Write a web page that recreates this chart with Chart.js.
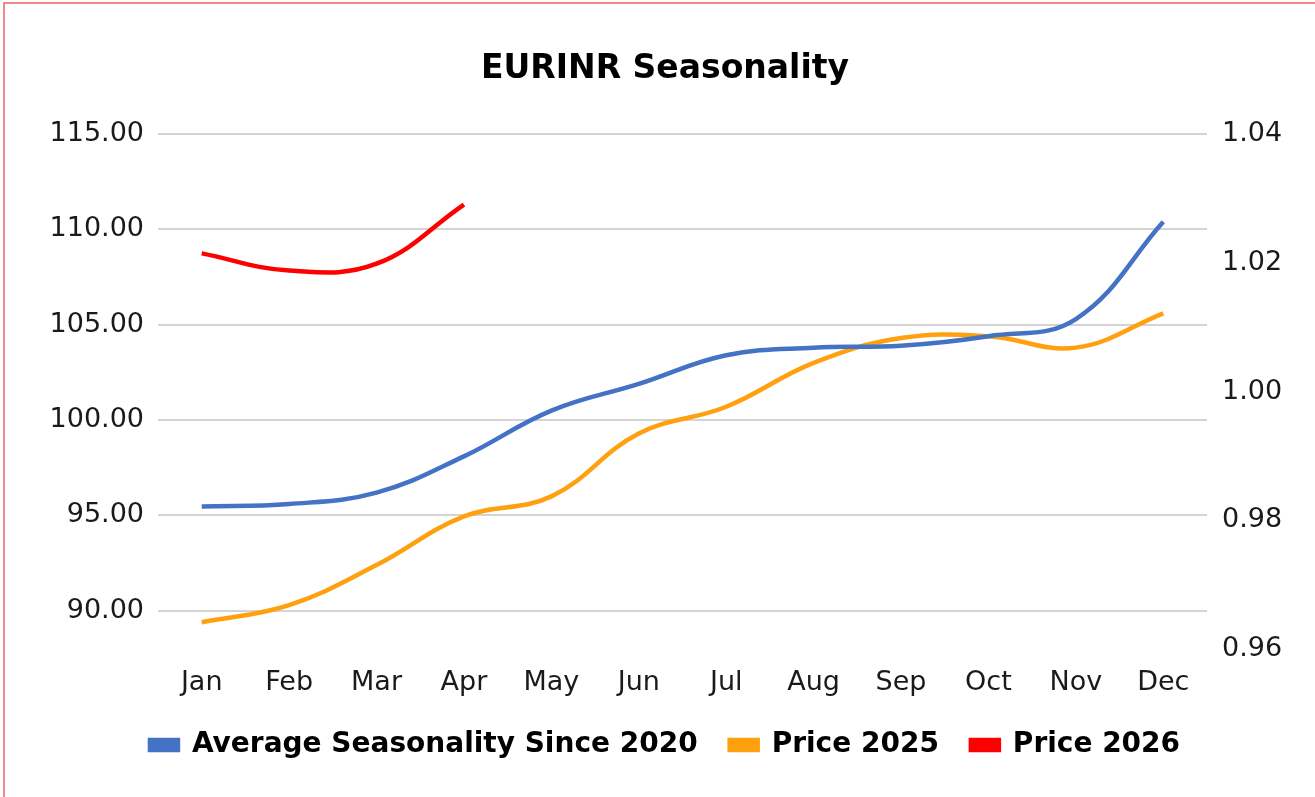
<!doctype html>
<html lang="en">
<head>
  <meta charset="UTF-8" />
  <title>EURINR Seasonality</title>
  <script src="https://cdn.jsdelivr.net/npm/chart.js@4.4.4/dist/chart.umd.min.js"></script>
  <style>
    html, body {
      margin: 0;
      padding: 0;
      background: #ffffff;
      overflow: hidden;
    }
    .frame {
      position: absolute;
      left: 3px;
      top: 2px;
      width: 1320px;
      height: 810px;
      border: 2px solid #ef8a8a;
    }
    canvas {
      display: block;
    }
  </style>
</head>
<body>
  <div class="frame">
    <canvas id="chart" width="1320" height="810"></canvas>
  </div>

  <script>
    const months = ['Jan', 'Feb', 'Mar', 'Apr', 'May', 'Jun', 'Jul', 'Aug', 'Sep', 'Oct', 'Nov', 'Dec'];
    const avgSeasonality = [95.47, 95.6, 96.2, 98.1, 100.5, 101.9, 103.4, 103.8, 103.9, 104.4, 105.3, 110.4];
    const price2025 = [89.4, 90.3, 92.4, 94.95, 96.0, 99.3, 100.7, 103.0, 104.3, 104.4, 103.8, 105.6];
    const price2026 = [108.74, 107.84, 108.2, 111.3];
    const leftTicks = [90, 95, 100, 105, 110, 115];
    const rightTicks = [0.96, 0.98, 1.00, 1.02, 1.04];

    const FONT = '"DejaVu Sans", Verdana, sans-serif';
    const TEXT = '#1a1a1a';

    const line = (label, data, color) => ({
      label,
      data,
      borderColor: color,
      backgroundColor: color,
      borderWidth: 4.5,
      pointRadius: 0,
      tension: 0.4,
      yAxisID: 'y'
    });

    new Chart(document.getElementById('chart'), {
      type: 'line',
      data: {
        labels: months,
        datasets: [
          line('Average Seasonality Since 2020', avgSeasonality, '#4472c4'),
          line('Price 2025', price2025, '#ffa00f'),
          line('Price 2026', price2026, '#ff0000')
        ]
      },
      options: {
        responsive: false,
        animation: false,
        layout: { padding: { left: 0, right: 0, top: 0, bottom: 45 } },
        plugins: {
          tooltip: { enabled: false },
          title: {
            display: true,
            text: 'EURINR Seasonality',
            color: '#000',
            font: { family: FONT, size: 33, weight: 'bold', lineHeight: 1.2 },
            padding: { top: 46, bottom: 44.4 }
          },
          legend: {
            position: 'bottom',
            labels: {
              color: '#000',
              font: { family: FONT, size: 28, weight: 'bold' },
              boxWidth: 28,
              boxHeight: 10,
              padding: 32
            }
          }
        },
        scales: {
          x: {
            offset: true,
            grid: { display: false },
            border: { display: false },
            ticks: { color: TEXT, font: { family: FONT, size: 27 }, padding: 10, maxRotation: 0 },
            afterFit: (s) => { s.height = 50; }
          },
          y: {
            position: 'left',
            min: 88,
            max: 115,
            afterBuildTicks: (s) => { s.ticks = leftTicks.map((v) => ({ value: v })); },
            grid: { color: '#d4d4d4', lineWidth: 2, drawTicks: false },
            border: { display: false },
            ticks: { color: TEXT, font: { family: FONT, size: 27 }, padding: 14, callback: (v) => Number(v).toFixed(2) },
            afterFit: (s) => { s.width = 153; }
          },
          y2: {
            position: 'right',
            min: 0.96,
            max: 1.04,
            afterBuildTicks: (s) => { s.ticks = rightTicks.map((v) => ({ value: v })); },
            grid: { display: false, drawTicks: false },
            border: { display: false },
            ticks: { color: TEXT, font: { family: FONT, size: 27 }, padding: 15, callback: (v) => Number(v).toFixed(2) },
            afterFit: (s) => { s.width = 118; }
          }
        }
      }
    });
  </script>
</body>
</html>
